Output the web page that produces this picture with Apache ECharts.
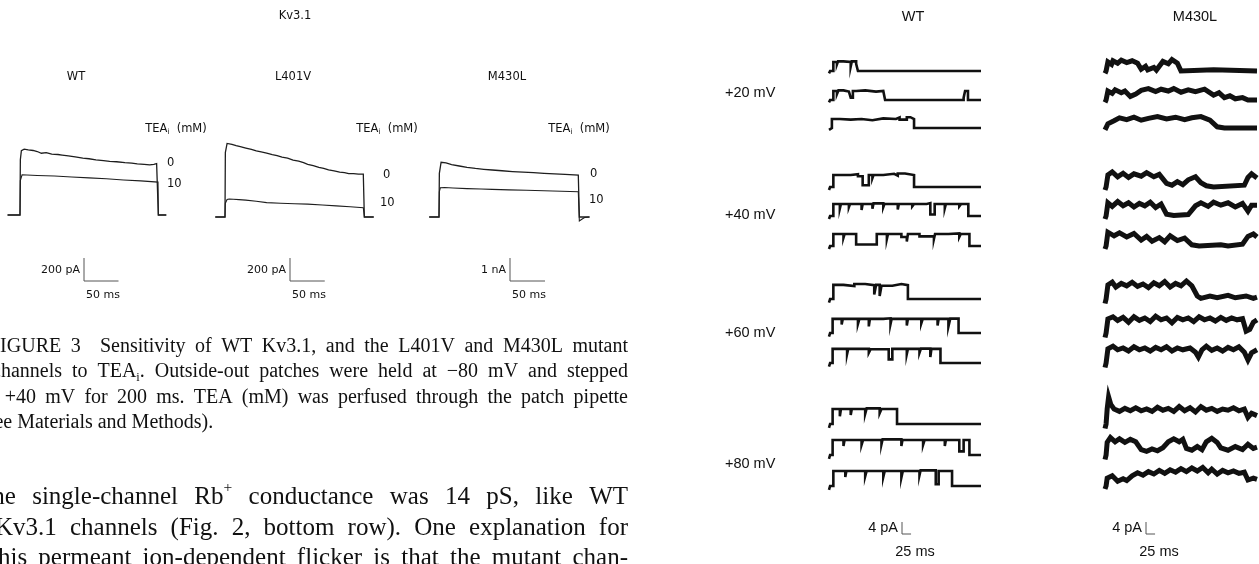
<!DOCTYPE html>
<html>
<head>
<meta charset="utf-8">
<script src="https://cdn.jsdelivr.net/npm/echarts@6/dist/echarts.min.js"></script>
<style>
  html, body { margin: 0; padding: 0; background: #fff; }
  #chart { width: 1259px; height: 564px; }
</style>
</head>
<body>
<div id="chart"></div>
<script>
// whole-cell currents, step to +40 mV at t = 0 (ms, pA)
const wtTea0 = [[-18,0],[0,0],[0.5,480],[2,560],[6,572],[12,566],[19,561],[25,552],[31,537],[38,542],[46,529],[55,526],[61,521],[70,514],[80,506],[91,494],[100,489],[110,479],[121,473],[130,467],[140,463],[152,455],[162,451],[170,445],[180,441],[188,436],[194,441],[198,447],[200,439],[200.5,0],[212,0]];
const wtTea10 = [[-18,0],[0,0],[0.5,300],[3,350],[10,348],[25,344],[50,339],[75,331],[100,323],[125,315],[150,305],[175,297],[200,286],[200.5,0],[212,0]];
const l401vTea0 = [[-14,0],[0,0],[0.5,560],[3,640],[5,650],[10,632],[16,620],[22,611],[30,599],[38,588],[45,574],[52,566],[60,556],[68,543],[75,534],[82,520],[90,512],[98,495],[106,486],[113,472],[119,458],[127,446],[135,431],[142,423],[149,409],[157,402],[165,390],[172,386],[178,378],[185,377],[192,372],[199,373],[200,371],[200.5,0],[214,0]];
const l401vTea10 = [[-14,0],[0,0],[0.5,120],[3,152],[6,157],[12,154],[20,151],[30,147],[45,137],[60,125],[80,119],[100,115],[119,112],[140,104],[160,97],[180,89],[199,81],[200,81],[200.5,0],[214,0]];
const m430lTea0 = [[-14,0],[0,0],[0.5,1900],[3,2380],[5,2405],[10,2350],[18,2280],[29,2217],[40,2160],[52,2110],[64,2075],[76,2043],[90,2010],[105,1975],[120,1950],[135,1926],[150,1900],[165,1875],[180,1850],[199,1826],[200,1826],[200.5,0],[215,0]];
const m430lTea10 = [[-14,0],[0,0],[0.5,1100],[2,1275],[8,1280],[20,1262],[40,1235],[60,1215],[76,1203],[100,1180],[125,1160],[150,1140],[175,1120],[199,1101],[200,1101],[200.5,-170],[204,-100],[208,-20],[215,0]];

// single-channel sweeps (ms, pA), three per voltage
const wt20 = [
  [[0,-0.8],[3,0],[12,3],[22,2.2],[25,3.2],[40,2.6],[45,3],[60,1.5],[63,3.2],[75,2.4],[80,0],[420,0]],
  [[0,-0.8],[3,0],[12,3],[22,2],[26,3.2],[40,2.8],[55,3],[60,0.8],[66,3],[75,2.4],[80,3.2],[100,2.8],[130,3],[150,2.6],[155,0],[372,0.8],[376,3],[384,0],[420,0]],
  [[0,-0.6],[3,0],[8,3],[30,3.4],[33,2.8],[60,3.4],[64,3],[90,2.6],[120,3.2],[150,3.6],[155,3],[185,3.5],[195,2.8],[215,3.6],[225,3],[235,0],[420,0]]
];
const wt40 = [
  [[0,-1],[3,0],[12,4],[30,3.4],[35,4],[60,4.3],[80,3.6],[93,0.6],[110,4],[120,3],[123,4],[150,4.4],[180,3.8],[190,4.5],[210,4],[235,0],[420,0]],
  [[0,-1],[3,0],[12,4],[30,2.5],[33,4],[55,3],[58,4],[90,2],[93,4],[120,2.4],[123,4.2],[150,3],[153,4],[190,2.2],[193,4],[230,3.2],[235,4],[270,4.3],[280,0.5],[292,4],[320,2.6],[323,4],[360,3.2],[365,4],[385,0],[420,0]],
  [[0,-1],[3,0],[12,4],[40,2.8],[43,4],[75,0.5],[132,4],[160,2.4],[163,4],[200,3],[215,1.5],[218,4],[250,3.2],[290,2.4],[293,4],[330,4.2],[360,3],[364,4],[388,0],[420,0]]
];
const wt60 = [
  [[0,-1.2],[3,0],[12,4.7],[40,4.3],[70,5],[100,4.6],[125,1.5],[130,4.7],[140,1],[145,4.4],[175,5],[200,4.6],[218,0],[420,0]],
  [[0,-1.2],[3,0],[10,4.7],[35,2.8],[38,4.7],[80,3],[84,4.7],[110,2.2],[113,4.7],[150,4.9],[170,3],[173,4.7],[215,2.5],[218,4.7],[255,3.2],[259,4.7],[300,2.5],[303,4.7],[330,2.2],[335,4.8],[358,0],[420,0]],
  [[0,-1.2],[3,0],[10,4.7],[50,3],[53,4.7],[110,3.4],[115,4.6],[165,1.2],[175,4.7],[215,3],[218,4.7],[250,3.4],[254,4.8],[280,2],[283,4.7],[308,0],[420,0]]
];
const wt80 = [
  [[0,-1.3],[3,0],[10,5],[30,2.6],[33,5],[60,3],[63,5],[100,3.4],[104,5.2],[140,3.6],[145,5],[188,0],[420,0]],
  [[0,-1.3],[3,0],[10,5],[40,3],[43,5],[90,3.4],[94,5],[145,3.6],[148,5.2],[200,3],[203,5],[260,3.4],[264,5],[320,3],[323,5],[360,1.2],[372,5],[388,0],[420,0]],
  [[0,-1.3],[3,0],[12,5],[45,3],[48,5],[100,3.2],[104,5],[150,3],[154,5],[200,2.8],[204,5],[250,3.6],[253,5.2],[295,0.6],[303,5],[340,0],[420,0]]
];
const m430l20 = [
  [[0,-0.8],[3,0],[8,3],[18,2.2],[22,3.4],[35,2.6],[45,3.6],[60,2.8],[75,3.4],[90,2.6],[100,0.6],[112,1.6],[118,0.4],[135,1.2],[142,0.3],[160,3.2],[175,2.4],[185,3.8],[200,2.6],[210,0],[300,0.4],[304,0],[420,0]],
  [[0,-0.8],[3,0],[8,3],[20,2.2],[28,3.4],[45,2.4],[55,3],[70,1.2],[85,2],[100,3.2],[120,3.8],[140,2.8],[155,3.6],[175,3],[190,3.8],[210,2.6],[230,3.4],[250,2.8],[275,3.6],[300,1.6],[315,2.4],[330,0.8],[345,1.4],[360,0.4],[380,0.8],[395,0],[420,0]],
  [[0,-0.6],[3,0],[8,1.4],[25,2.4],[40,3.4],[60,2.8],[80,3.6],[100,2.6],[120,3.2],[145,3.8],[170,3],[195,3.6],[220,2.8],[240,3.4],[265,3.8],[290,2.6],[310,0.4],[330,0],[420,0]]
];
const m430l40 = [
  [[0,-1],[3,0],[8,4],[20,5],[35,3.4],[50,4.6],[65,3.2],[80,4.4],[100,3.6],[115,4.8],[135,3.4],[150,4.2],[170,1.2],[185,0.6],[200,1.8],[215,0.8],[230,2.4],[250,3.4],[265,1.4],[280,0.4],[300,0],[385,0.6],[395,3.2],[405,4.4],[420,3]],
  [[0,-1],[3,0],[8,4.4],[20,3.2],[35,4.8],[50,3.4],[65,4.4],[80,3],[95,4.2],[110,3.4],[125,4.6],[140,2.8],[155,4],[170,0.6],[190,0.2],[230,0.5],[250,3.4],[265,4.4],[285,3.2],[300,4.6],[320,3.6],[340,4.4],[360,3],[380,4.2],[395,1.6],[405,3.6],[420,3.6]],
  [[0,-1],[3,0],[8,4.6],[25,3.4],[40,4.4],[60,3],[80,4.2],[100,2],[115,3.2],[130,1.6],[150,2.8],[165,1.4],[180,3.4],[200,1.8],[220,2.6],[240,0.4],[260,0],[320,0.4],[340,0],[380,0.6],[395,3.2],[410,4],[420,3]]
];
const m430l60 = [
  [[0,-1.5],[3,0],[8,4.7],[20,5.6],[30,4],[45,5.2],[60,4.4],[75,5.6],[90,4.2],[105,5],[120,3.8],[135,5.4],[150,4.4],[165,5.8],[180,4],[195,5.2],[210,4.4],[225,6],[240,4.4],[255,1],[265,0.2],[290,1],[310,0.4],[340,1.2],[360,0.4],[390,1],[410,0.2],[420,0.6]],
  [[0,-1.5],[3,0],[8,4.7],[22,5.4],[35,4.2],[50,5.2],[65,3.6],[80,5.4],[95,4.2],[110,5],[125,3.8],[140,5.6],[155,4.4],[170,5],[185,3.4],[200,5.2],[215,4.4],[230,5],[245,3.8],[260,5.4],[275,4.4],[290,5],[305,4],[320,5.2],[335,4.2],[350,5],[365,4.4],[380,4.8],[390,0.6],[400,1.2],[410,3.6],[420,4.4]],
  [[0,-1.5],[3,0],[8,4.7],[22,5.6],[35,4.4],[50,5],[65,4],[80,5.4],[95,4.4],[110,5],[125,4],[140,5.2],[155,4.4],[170,5.4],[185,4],[200,5],[215,4.4],[235,5],[250,3.6],[258,2],[268,4.4],[280,5.6],[295,4.2],[310,5],[325,4],[340,5.2],[355,4.4],[370,5.4],[385,3.6],[395,1],[405,3.4],[420,4.4]]
];
const m430l80 = [
  [[0,-1.5],[3,0],[6,5],[10,9],[16,6.5],[25,5],[40,4.2],[55,5.2],[70,4.4],[85,5.4],[100,4.4],[115,5],[130,4.2],[145,5.6],[160,4.6],[175,5.2],[190,4.2],[205,5.8],[220,4.4],[235,5.4],[250,4],[265,5.8],[280,4.6],[295,5.2],[310,4.2],[325,5],[340,4.6],[355,5.4],[370,4.4],[385,5],[395,2.2],[405,3.6],[420,2.8]],
  [[0,-1.5],[3,0],[6,4.2],[15,5.8],[28,4.4],[40,5.4],[55,4.2],[70,5.2],[85,4.4],[100,1.8],[115,1.2],[130,2],[145,1.4],[160,2.4],[175,4.4],[190,5.4],[205,4.4],[215,5.2],[225,2.2],[240,1.6],[255,2.8],[268,1.8],[280,4.4],[295,5.6],[310,4.2],[320,2.4],[340,1.6],[360,2.8],[380,1.8],[395,3.6],[410,2.2],[420,2.6]],
  [[0,-1],[3,0],[6,2.6],[20,3.4],[35,1.6],[50,2.4],[60,1.8],[75,3.4],[90,4.4],[105,3.6],[120,4.8],[135,4],[150,5.2],[165,4.2],[180,5.4],[195,4.6],[210,5.8],[225,4.8],[240,6],[255,5],[270,6.2],[285,4.4],[295,5.6],[310,4],[325,5.2],[340,4.4],[355,5],[370,4.2],[385,4.6],[395,2],[410,2.6],[420,2.2]]
];

const voltages = ['+20 mV', '+40 mV', '+60 mV', '+80 mV'];
const panelNames = ['WT', 'L401V', 'M430L'];
const teaLabels = ['0', '10'];

const captionLines = [
  ['FIGURE', '3', '', 'Sensitivity', 'of', 'WT', 'Kv3.1,', 'and', 'the', 'L401V', 'and', 'M430L', 'mutant'],
  ['channels', 'to', 'TEA_i.', 'Outside-out', 'patches', 'were', 'held', 'at', '\u221280', 'mV', 'and', 'stepped'],
  ['to', '+40', 'mV', 'for', '200', 'ms.', 'TEA', '(mM)', 'was', 'perfused', 'through', 'the', 'patch', 'pipette'],
  ['(see', 'Materials', 'and', 'Methods).']
];
const bodyLines = [
  ['The', 'single-channel', 'Rb^+', 'conductance', 'was', '14', 'pS,', 'like', 'WT'],
  ['Kv3.1', 'channels', '(Fig.', '2,', 'bottom', 'row).', 'One', 'explanation', 'for'],
  ['this', 'permeant', 'ion-dependent', 'flicker', 'is', 'that', 'the', 'mutant', 'chan-']
];

const INK = '#111';
const FIG = '"DejaVu Sans", Verdana, sans-serif';
const SANS = '"Liberation Sans", Arial, sans-serif';
const SERIF = '"Liberation Serif", "Times New Roman", serif';

const grids = [], xAxes = [], yAxes = [], series = [], graphics = [];

function panel(x0, y0, px, py, xr, yr) {
  const i = grids.length;
  grids.push({ left: x0 + xr[0] * px, top: y0 - yr[1] * py, width: (xr[1] - xr[0]) * px, height: (yr[1] - yr[0]) * py });
  xAxes.push({ type: 'value', gridIndex: i, min: xr[0], max: xr[1], show: false });
  yAxes.push({ type: 'value', gridIndex: i, min: yr[0], max: yr[1], show: false });
  return i;
}
function trace(i, data, w, step, color) {
  series.push({
    type: 'line', xAxisIndex: i, yAxisIndex: i, data: data, symbol: 'none', step: step || false,
    clip: false, silent: true, lineStyle: { width: w, color: color || INK, join: 'miter' }
  });
}
function scaleBar(x0, y0, px, py, dx, dy) {
  const i = panel(x0, y0, px, py, [0, dx], [0, dy]);
  trace(i, [[0, dy], [0, 0], [dx, 0]], 1, false, '#555');
}

const ctx = document.createElement('canvas').getContext('2d');
function measure(s, size, fam) {
  ctx.font = size + 'px ' + fam;
  return ctx.measureText(s).width;
}
// split a word into pieces: _x subscript, ^x superscript
function pieces(word, size) {
  const out = [];
  let buf = '';
  for (let k = 0; k < word.length; k++) {
    const c = word[k];
    if ((c === '_' || c === '^') && k + 1 < word.length) {
      if (buf) { out.push({ t: buf, s: size, dy: 0 }); buf = ''; }
      out.push({ t: word[k + 1], s: size * 0.62, dy: c === '_' ? size * 0.3 : -size * 0.38 });
      k++;
    } else buf += c;
  }
  if (buf) out.push({ t: buf, s: size, dy: 0 });
  return out;
}
function wordWidth(word, size, fam) {
  return pieces(word, size).reduce((a, p) => a + measure(p.t, p.s, fam), 0);
}
function drawWord(word, x, y, size, fam) {
  pieces(word, size).forEach(p => {
    graphics.push({
      type: 'text', x: x, y: y + p.dy, silent: true,
      style: { text: p.t, fontSize: p.s, fontFamily: fam, fill: INK,
        textAlign: 'left', textVerticalAlign: 'middle', align: 'left', verticalAlign: 'middle' }
    });
    x += measure(p.t, p.s, fam);
  });
}
function label(s, x, y, size, align, fam) {
  fam = fam || FIG;
  const words = s.split(' ');
  const sp = measure(' ', size, fam);
  const w = words.reduce((a, wd) => a + wordWidth(wd, size, fam), 0) + (words.length - 1) * sp;
  let left = align === 'center' ? x - w / 2 : align === 'right' ? x - w : x;
  words.forEach(wd => { drawWord(wd, left, y, size, fam); left += wordWidth(wd, size, fam) + sp; });
}
function setLine(words, x0, x1, y, size, justify) {
  const ws = words.map(w => wordWidth(w, size, SERIF));
  const total = ws.reduce((a, b) => a + b, 0);
  const sp = measure(' ', size, SERIF);
  const gap = justify ? Math.max(sp * 0.6, (x1 - x0 - total) / (words.length - 1)) : sp;
  let x = x0;
  words.forEach((w, i) => { drawWord(w, x, y, size, SERIF); x += ws[i] + gap; });
}

// ---- left: whole-cell currents ----
const wcPanels = [
  { x0: 20, y0: 215, px: 0.69, py: 0.115, yr: [-250, 650], d: [wtTea0, wtTea10], bar: [84, 281, 200], barText: '200 pA' },
  { x0: 225, y0: 217, px: 0.695, py: 0.115, yr: [-250, 700], d: [l401vTea0, l401vTea10], bar: [290, 281, 200], barText: '200 pA' },
  { x0: 439, y0: 217, px: 0.70, py: 0.023, yr: [-1200, 2600], d: [m430lTea0, m430lTea10], bar: [510, 281, 1000], barText: '1 nA' }
];
wcPanels.forEach(p => {
  const i = panel(p.x0, p.y0, p.px, p.py, [-20, 220], p.yr);
  p.d.forEach((d, k) => trace(i, d, k === 0 ? 1.3 : 1.1, false, '#1e1e1e'));
  scaleBar(p.bar[0], p.bar[1], p.px, p.py, 50, p.bar[2]);
  label(p.barText, p.bar[0] - 4, p.bar[1] - 11, 11, 'right');
  label('50 ms', p.bar[0] + 19, p.bar[1] + 14, 11, 'center');
});
label('Kv3.1', 295, 16, 11.5, 'center');
[76, 293, 507].forEach((x, k) => label(panelNames[k], x, 77, 11.5, 'center'));
[176, 387, 579].forEach(x => label('TEA_i  (mM)', x, 129, 11.5, 'center'));
[[167, 163, 167, 184], [383, 175, 380, 203], [590, 174, 589, 200]].forEach(q => {
  label(teaLabels[0], q[0], q[1], 11.5, 'left');
  label(teaLabels[1], q[2], q[3], 11.5, 'left');
});

// ---- right: single channels ----
const rowY = [71, 100, 128, 187, 216, 246, 299, 333, 363, 424, 455, 486];
const PXMS = 152 / 420, PXPA = 3;
[[wt20, wt40, wt60, wt80], [m430l20, m430l40, m430l60, m430l80]].forEach((col, c) => {
  const x0 = c === 0 ? 829 : 1105;
  col.forEach((group, g) => group.forEach((d, r) => {
    const i = panel(x0, rowY[g * 3 + r], PXMS, PXPA, [0, 420], [-4, 10]);
    trace(i, d, c === 0 ? 2.6 : 5, c === 0 ? 'end' : false);
  }));
  const bx = c === 0 ? 902 : 1146;
  scaleBar(bx, 534, PXMS, PXPA, 25, 4);
  label('4 pA', bx - 4, 528, 14.5, 'right', SANS);
  label('25 ms', bx + 13, 552, 14.5, 'center', SANS);
});
label('WT', 913, 17, 14.5, 'center', SANS);
label('M430L', 1195, 17, 14.5, 'center', SANS);
[93, 215, 333, 464].forEach((y, k) => label(voltages[k], 725, y, 14.5, 'left', SANS));

// ---- caption and body text ----
const capStarts = [-11, -8, -20, -20], capY = [347, 372, 398, 423];
captionLines.forEach((ln, k) => setLine(ln, capStarts[k], 628, capY[k], 20, k < 3));
const bodyStarts = [-23, -5, -9], bodyY = [497, 528, 558];
bodyLines.forEach((ln, k) => setLine(ln, bodyStarts[k], 628, bodyY[k], 25, true));

const chart = echarts.init(document.getElementById('chart'), null, { renderer: 'canvas' });
chart.setOption({
  animation: false,
  backgroundColor: '#ffffff',
  grid: grids,
  xAxis: xAxes,
  yAxis: yAxes,
  series: series,
  graphic: { elements: graphics }
});
</script>
</body>
</html>
